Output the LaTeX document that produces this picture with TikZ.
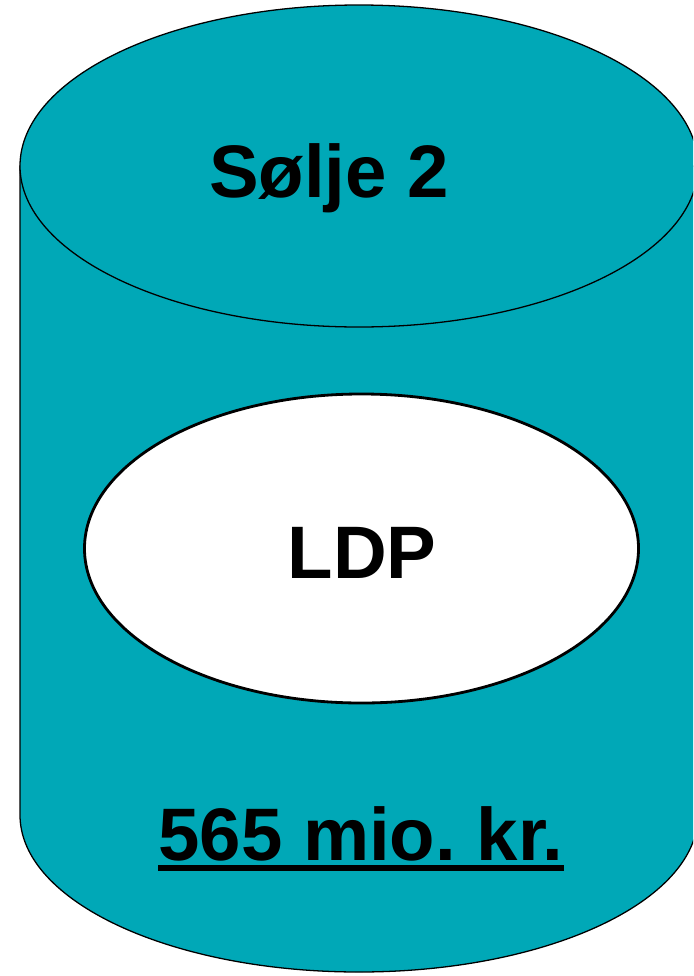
\documentclass[tikz,border=0pt]{standalone}
\usepackage{fontspec}
\setmainfont{Liberation Sans}
\usetikzlibrary{shapes.geometric}
\definecolor{tankteal}{RGB}{0,168,183}
\newcommand\ulbold[1]{{\setbox0\hbox{#1}\rlap{\rule[-0.15em]{\wd0}{0.08em}}\box0}}
\frenchspacing

\begin{document}
\begin{tikzpicture}[x=0.03cm, y=-0.03cm,
    tank/.style={fill=tankteal, draw=black, line width=1.1pt},
    bigtext/.style={font=\fontsize{63.5}{70}\selectfont\bfseries, anchor=base, inner sep=0pt}]
    \clip (0,0) rectangle (693,976);
    % Cylinder body and lid
    \path[tank] (20,166) -- (20,815)
        arc[start angle=180, end angle=0, x radius=339, y radius=157]
        -- (698,166) -- cycle;
    \draw[tank] (359,166) ellipse [x radius=339, y radius=161];
    \node[bigtext] (name) at (329,197) {Sølje 2};
    % Inner part
    \node[ellipse, draw, fill=white, line width=2.4pt,
          minimum width=16.62cm, minimum height=9.27cm] (ldp) at (361.5,548.5) {};
    \node[bigtext] (ldptext) at (362,578) {LDP};
    \node[bigtext] (amount) at (361,860) {\ulbold{565 mio. kr.}};
\end{tikzpicture}
\end{document}
